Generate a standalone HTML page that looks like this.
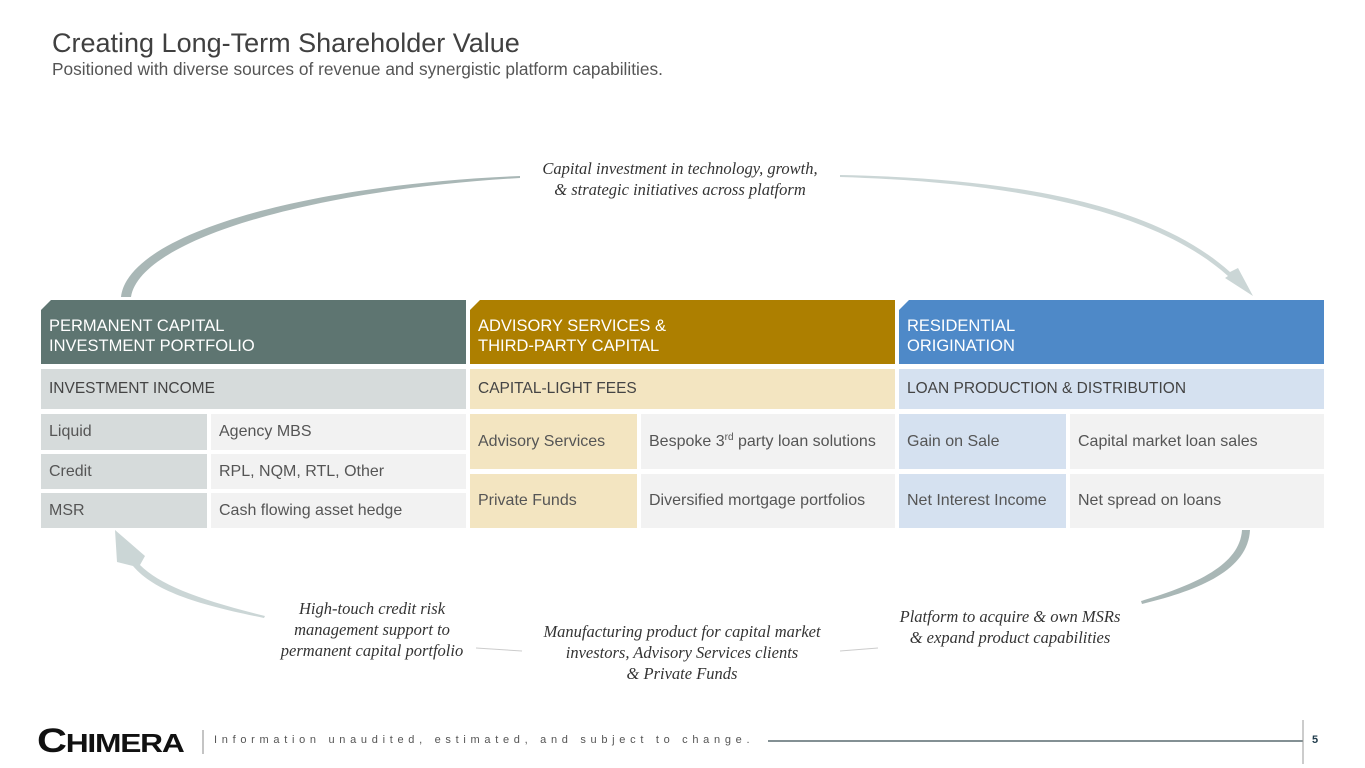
<!DOCTYPE html>
<html><head><meta charset="utf-8"><style>
body{margin:0;width:1365px;height:768px;position:relative;background:#fff;font-family:"Liberation Sans",sans-serif;overflow:hidden}
.a{position:absolute;box-sizing:border-box}
.h{color:#fff;font-size:16.5px;line-height:20px;padding:16px 0 0 8px}
.s{color:#444;font-size:15.5px;padding-left:8px;display:flex;align-items:center}
.c{color:#555;font-size:16px;padding-left:8px;display:flex;align-items:center;white-space:nowrap}
.i{font-family:"Liberation Serif",serif;font-style:italic;color:#333;font-size:16.5px;text-align:center;line-height:21px}
</style></head><body>
<div class="a" style="left:52px;top:28px;font-size:27px;color:#404040">Creating Long-Term Shareholder Value</div>
<div class="a" style="left:52px;top:59px;font-size:17.3px;color:#555">Positioned with diverse sources of revenue and synergistic platform capabilities.</div>

<svg class="a" style="left:0;top:0" width="1365" height="768">
<path d="M121,297 C128,235 300,185 520,176 L520,178 C310,190 140,240 131,297 Z" fill="#a9b7b6"/>
<path d="M840,175 C1000,178 1150,200 1230,272 L1238,268 L1253,296 L1225,278 L1228,276 C1150,206 1000,182 840,177 Z" fill="#cbd6d6"/>
<path d="M1242,530 L1250,530 C1248,570 1200,590 1142,604 L1141,601 C1195,585 1240,565 1242,530 Z" fill="#a9b7b6"/>
<path d="M265,616 C200,600 160,585 140,565 L145,556 L115,530 L117,562 L133,566 C155,592 200,605 264,618 Z" fill="#cbd6d6"/>
<line x1="476" y1="648" x2="522" y2="651" stroke="#ccc"/>
<line x1="840" y1="651" x2="878" y2="648" stroke="#ccc"/>
<line x1="768" y1="741" x2="1303" y2="741" stroke="#5a6c70" stroke-width="1.5"/>
<line x1="1303" y1="720" x2="1303" y2="764" stroke="#999"/>
<line x1="203" y1="730" x2="203" y2="754" stroke="#888"/>
</svg>

<div class="i a" style="left:480px;top:158px;width:400px">Capital investment in technology, growth,<br>&amp; strategic initiatives across platform</div>
<div class="i a" style="left:252px;top:598px;width:240px">High-touch credit risk<br>management support to<br>permanent capital portfolio</div>
<div class="i a" style="left:500px;top:621px;width:364px">Manufacturing product for capital market<br>investors, Advisory Services clients<br>&amp; Private Funds</div>
<div class="i a" style="left:860px;top:606px;width:300px">Platform to acquire &amp; own MSRs<br>&amp; expand product capabilities</div>

<div class="a h" style="left:41px;top:300px;width:425px;height:64px;background:#5e7571;clip-path:polygon(10px 0,100% 0,100% 100%,0 100%,0 10px)">PERMANENT CAPITAL<br>INVESTMENT PORTFOLIO</div>
<div class="a h" style="left:470px;top:300px;width:425px;height:64px;background:#ad7f00;clip-path:polygon(10px 0,100% 0,100% 100%,0 100%,0 10px)">ADVISORY SERVICES &amp;<br>THIRD-PARTY CAPITAL</div>
<div class="a h" style="left:899px;top:300px;width:425px;height:64px;background:#4e89c8;clip-path:polygon(10px 0,100% 0,100% 100%,0 100%,0 10px)">RESIDENTIAL<br>ORIGINATION</div>

<div class="a s" style="left:41px;top:369px;width:425px;height:40px;background:#d6dbdb">INVESTMENT INCOME</div>
<div class="a s" style="left:470px;top:369px;width:425px;height:40px;background:#f3e5c1">CAPITAL-LIGHT FEES</div>
<div class="a s" style="left:899px;top:369px;width:425px;height:40px;background:#d5e1f0">LOAN PRODUCTION &amp; DISTRIBUTION</div>

<div class="a c" style="left:41px;top:414px;width:166px;height:36px;background:#d6dbdb">Liquid</div>
<div class="a c" style="left:211px;top:414px;width:255px;height:36px;background:#f2f2f2">Agency MBS</div>
<div class="a c" style="left:41px;top:454px;width:166px;height:35px;background:#d6dbdb">Credit</div>
<div class="a c" style="left:211px;top:454px;width:255px;height:35px;background:#f2f2f2">RPL, NQM, RTL, Other</div>
<div class="a c" style="left:41px;top:493px;width:166px;height:35px;background:#d6dbdb">MSR</div>
<div class="a c" style="left:211px;top:493px;width:255px;height:35px;background:#f2f2f2">Cash flowing asset hedge</div>

<div class="a c" style="left:470px;top:414px;width:167px;height:55px;background:#f3e5c1">Advisory Services</div>
<div class="a c" style="left:641px;top:414px;width:254px;height:55px;background:#f2f2f2">Bespoke 3<sup style="font-size:10px;margin-top:-8px">rd</sup>&nbsp;party loan solutions</div>
<div class="a c" style="left:470px;top:474px;width:167px;height:54px;background:#f3e5c1">Private Funds</div>
<div class="a c" style="left:641px;top:474px;width:254px;height:54px;background:#f2f2f2">Diversified mortgage portfolios</div>

<div class="a c" style="left:899px;top:414px;width:167px;height:55px;background:#d5e1f0">Gain on Sale</div>
<div class="a c" style="left:1070px;top:414px;width:254px;height:55px;background:#f2f2f2">Capital market loan sales</div>
<div class="a c" style="left:899px;top:474px;width:167px;height:54px;background:#d5e1f0">Net Interest Income</div>
<div class="a c" style="left:1070px;top:474px;width:254px;height:54px;background:#f2f2f2">Net spread on loans</div>

<div class="a" style="left:37px;top:722px;font-size:34px;font-weight:bold;color:#111;letter-spacing:-1px;line-height:38px;transform:scaleX(1.22);transform-origin:left">C<span style="font-size:26px">HIMERA</span></div>
<div class="a" style="left:214px;top:734px;font-size:11px;color:#555;letter-spacing:4.7px">Information unaudited, estimated, and subject to change.</div>
<div class="a" style="left:1312px;top:734px;font-size:11px;font-weight:bold;color:#1f3a4a">5</div>
</body></html>
